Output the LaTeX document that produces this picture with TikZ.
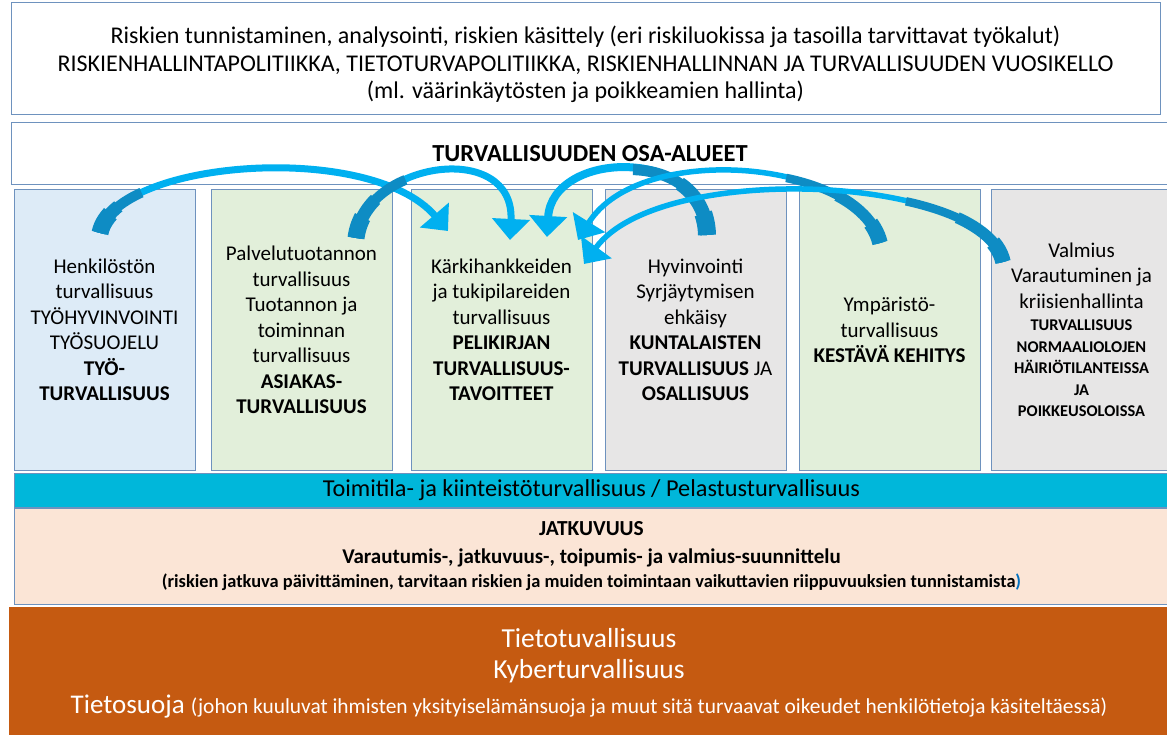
\documentclass[tikz,border=0pt]{standalone}
\usepackage{fontspec}
\setmainfont{Carlito}
\usetikzlibrary{arrows.meta,positioning}

\definecolor{edgeblue}{RGB}{110,146,190}
\definecolor{paleblue}{RGB}{221,235,247}
\definecolor{palegreen}{RGB}{226,239,218}
\definecolor{palegrey}{RGB}{231,230,230}
\definecolor{bandcyan}{RGB}{0,183,218}
\definecolor{peach}{RGB}{251,229,214}
\definecolor{rust}{RGB}{197,90,17}
\definecolor{arrowlight}{RGB}{0,176,240}
\definecolor{arrowdark}{RGB}{14,140,196}
\definecolor{linkblue}{RGB}{0,112,192}

\newcommand{\capbold}[1]{{\bfseries\fontsize{21}{25.5}\selectfont #1}}
\newcommand{\smallbold}[1]{{\bfseries\fontsize{16.4}{25.5}\selectfont #1}}

\begin{document}
\begin{tikzpicture}[x=1pt, y=-1pt,
    box/.style={draw=edgeblue, line width=1pt, align=center, inner sep=0pt},
    col/.style={box, minimum width=181pt, minimum height=280pt, font=\fontsize{21}{25.5}\selectfont},
    band/.style={box, minimum width=1155pt},
    flow/.style={draw=arrowlight, line width=#1, -{Triangle[width=37pt,length=21pt]}},
    flowtail/.style={draw=arrowdark, dash pattern=on #1 off 3000pt}
]
\useasboundingbox (0,0) rectangle (1167,735);

% top frame
\node[box, minimum width=1149pt, minimum height=112pt, font=\fontsize{24}{27.5}\selectfont] (risk) at (585.5,59)
  {\rule{0pt}{29pt}Riskien tunnistaminen, analysointi, riskien käsittely (eri riskiluokissa ja tasoilla tarvittavat työkalut)\\
   RISKIENHALLINTAPOLITIIKKA, TIETOTURVAPOLITIIKKA, RISKIENHALLINNAN JA TURVALLISUUDEN VUOSIKELLO\\
   (ml. väärinkäytösten ja poikkeamien hallinta)};
\node[box, minimum width=1158pt, minimum height=62pt, font=\bfseries\fontsize{24.5}{28}\selectfont] (areas) at (590,154)
  {TURVALLISUUDEN OSA-ALUEET};

% columns
\node[col, fill=paleblue] (c1) at (104.5,330)
  {Henkilöstön\\ turvallisuus\\ TYÖHYVINVOINTI\\ TYÖSUOJELU\\ \capbold{TYÖ-}\\ \capbold{TURVALLISUUS}};
\node[col, fill=palegreen, right=15pt of c1] (c2)
  {Palvelutuotannon\\ turvallisuus\\ Tuotannon ja\\ toiminnan\\ turvallisuus\\ \capbold{ASIAKAS-}\\ \capbold{TURVALLISUUS}};
\node[col, fill=palegreen, right=18pt of c2] (c3)
  {Kärkihankkeiden\\ ja tukipilareiden\\ turvallisuus\\ \capbold{PELIKIRJAN}\\ \capbold{TURVALLISUUS-}\\ \capbold{TAVOITTEET}};
\node[col, fill=palegrey, right=12pt of c3] (c4)
  {Hyvinvointi\\ Syrjäytymisen\\ ehkäisy\\ \capbold{KUNTALAISTEN}\\ \capbold{TURVALLISUUS} JA\\ \capbold{OSALLISUUS}};
\node[col, fill=palegreen, right=12pt of c4] (c5)
  {Ympäristö-\\ turvallisuus\\ \capbold{KESTÄVÄ KEHITYS}};
\node[col, fill=palegrey, right=10pt of c5] (c6)
  {Valmius\\ Varautuminen ja\\ kriisienhallinta\\[-3pt] \smallbold{TURVALLISUUS}\\[-4pt] \smallbold{NORMAALIOLOJEN}\\[-4pt]
   \smallbold{HÄIRIÖTILANTEISSA}\\[-4pt] \smallbold{JA}\\[-4pt] \smallbold{POIKKEUSOLOISSA}};

% bands
\node[band, fill=bandcyan, minimum height=34pt, font=\fontsize{24.3}{28}\selectfont] (fac) at (591.5,490)
  {Toimitila- ja kiinteistöturvallisuus / Pelastusturvallisuus};
\node[band, fill=peach, minimum height=96pt, below=0pt of fac, font=\bfseries\fontsize{21}{26}\selectfont] (cont)
  {{\fontsize{21.4}{26}\selectfont JATKUVUUS}\\[2pt]
   Varautumis-, jatkuvuus-, toipumis- ja valmius-suunnittelu\\[-2pt]
   {\fontsize{18.4}{26}\selectfont (riskien jatkuva päivittäminen, tarvitaan riskien ja muiden toimintaan vaikuttavien riippuvuuksien tunnistamista\textcolor{linkblue}{)}}};
\node[band, draw=rust, fill=rust, minimum width=1160pt, minimum height=132pt, below=2pt of cont, xshift=-2.5pt,
      text=white, font=\fontsize{27.5}{31}\selectfont] (info)
  {Tietotuvallisuus\\ Kyberturvallisuus\\[4pt]
   {\fontsize{27}{31}\selectfont Tietosuoja} {\fontsize{21.4}{31}\selectfont (johon kuuluvat ihmisten yksityiselämänsuoja ja muut sitä turvaavat oikeudet henkilötietoja käsiteltäessä)}};

% curved arrows
\coordinate (t1) at (100,233);  \coordinate (a1) at (115,160); \coordinate (b1) at (370,140); \coordinate (h1) at (448,231);
\coordinate (t2) at (356,238);  \coordinate (a2) at (366,160); \coordinate (b2) at (515,140); \coordinate (h2) at (510,240);
\coordinate (t3) at (707,235);  \coordinate (a3) at (705,145); \coordinate (b3) at (552,150); \coordinate (h3) at (547,237);
\coordinate (t4) at (880,243);  \coordinate (a4) at (860,160); \coordinate (b4) at (640,140); \coordinate (h4) at (578,240);
\coordinate (t5) at (1003,262); \coordinate (a5) at (985,175); \coordinate (b5) at (660,160); \coordinate (h5) at (584,264);
\foreach \i/\w/\d in {1/7/60,2/7/80,3/8/110,4/5.5/120,5/5.5/120} {
  \draw[flow=\w pt] (t\i) .. controls (a\i) and (b\i) .. (h\i);
  \draw[flowtail=\d pt, line width=\w pt+3pt] (t\i) .. controls (a\i) and (b\i) .. (h\i);
  \draw[flowtail=0.55*\d pt, line width=\w pt+6pt] (t\i) .. controls (a\i) and (b\i) .. (h\i);
  \draw[flowtail=22pt, line width=\w pt+10pt] (t\i) .. controls (a\i) and (b\i) .. (h\i);
}
\end{tikzpicture}
\end{document}
